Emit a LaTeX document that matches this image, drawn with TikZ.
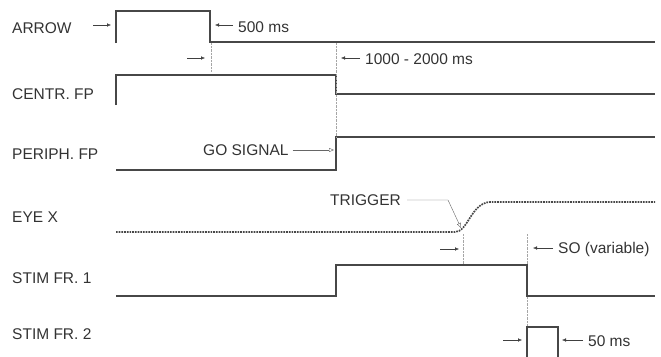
\documentclass[tikz,border=0pt]{standalone}
\usepackage{fontspec}
\setmainfont{Liberation Sans}
\usepackage{tikz}
\usetikzlibrary{arrows.meta,positioning}

\begin{document}
\begin{tikzpicture}[x=1pt,y=-1pt,
        sig/.style={line width=1.7pt,draw=black!72},
        guide/.style={densely dotted,thin,draw=black!35},
        timearr/.style={draw=black!75,thin,-{Latex[length=4pt,width=3.5pt]}},
        callout/.style={draw=black!60,thin,-{Triangle[open,length=5pt,width=4pt]}},
        lbl/.style={anchor=west,inner sep=0pt,font=\fontsize{15.5}{17}\selectfont,text=black!80}
      ]
        \useasboundingbox (0,0) rectangle (661,356);
        % channel names
        \node[lbl] (nArrow) at (12,28) {ARROW};
        \node[lbl] (nCentr) at (12,94) {CENTR. FP};
        \node[lbl] (nPeri) at (12,154) {PERIPH. FP};
        \node[lbl] (nEye) at (12,217) {EYE X};
        \node[lbl] (nStimA) at (12,278) {STIM FR. 1};
        \node[lbl] (nStimB) at (12,334) {STIM FR. 2};
        % traces
        \draw[sig] (116,43)--(116,11)--(210,11)--(210,42)--(655,42);
        \draw[sig] (116,105)--(116,75)--(336,75)--(336,94)--(655,94);
        \draw[sig] (116,170)--(336,170)--(336,137)--(655,137);
        \draw[line width=1.7pt,densely dotted,draw=black!72] (116,232)--(455,232)
          .. controls (468,232) and (471,203) .. (490,202) -- (655,202);
        \draw[sig] (116,296)--(336,296)--(336,265)--(527,265)--(527,296)--(655,296);
        \draw[sig] (527,358)--(527,327)--(558,327)--(558,358);
        % guides
        \draw[guide] (211,43)--(211,72);
        \draw[guide] (336,43)--(336,137);
        \draw[guide] (463,234)--(463,264);
        \draw[guide] (527,234)--(527,264);
        \draw[guide] (527,297)--(527,326);
        % timing marks
        \coordinate (aA) at (93,25);   \coordinate (aB) at (111,25);
        \coordinate (bA) at (187,58);  \coordinate (bB) at (205,58);
        \coordinate (cA) at (440,249); \coordinate (cB) at (459,249);
        \coordinate (dA) at (503,340); \coordinate (dB) at (522,340);
        \draw[timearr] (aA)--(aB);
        \draw[timearr] (bA)--(bB);
        \draw[timearr] (cA)--(cB);
        \draw[timearr] (dA)--(dB);
        \node[lbl] (t500) at (238,27) {500 ms};
        \node[lbl] (tWait) at (365,59) {1000 - 2000 ms};
        \node[lbl] (tSO) at (558,249) {SO (variable)};
        \node[lbl] (t50) at (588,341) {50 ms};
        \coordinate (e500) at (215,25);
        \coordinate (eWait) at (341,58);
        \coordinate (eSO) at (533,248);
        \coordinate (e50) at (562,340);
        \draw[timearr] (t500.west)+(-5,-2)--(e500);
        \draw[timearr] (tWait.west)+(-5,-1)--(eWait);
        \draw[timearr] (tSO.west)+(-5,-1)--(eSO);
        \draw[timearr] (t50.west)+(-5,-1)--(e50);
        % events
        \node[lbl] (tGo) at (203,150) {GO SIGNAL};
        \coordinate (eGo) at (334,150);
        \draw[callout] (tGo.east)+(4,0)--(eGo);
        \node[lbl] (tTrig) at (330,200) {TRIGGER};
        \coordinate (eTrig) at (461,228);
        \draw[callout] (tTrig.east)+(6,0)--(448,200)--(eTrig);
      \end{tikzpicture}
\end{document}
